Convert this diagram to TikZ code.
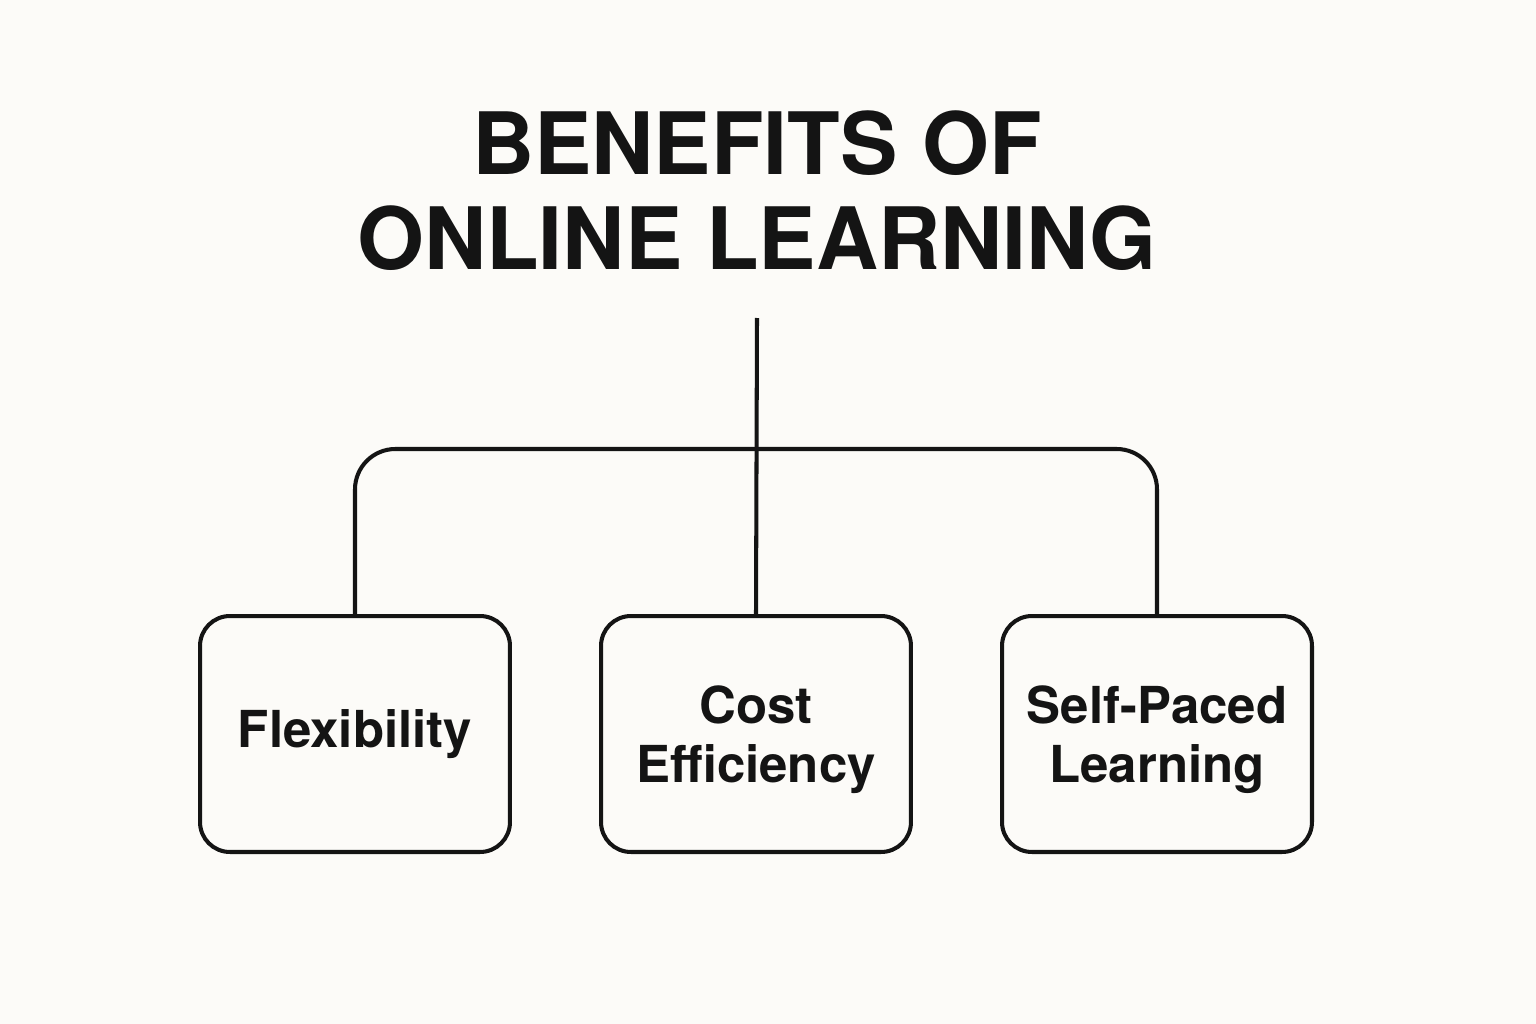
\documentclass[tikz,border=0pt]{standalone}
\usepackage{fontspec}
\setmainfont{TeX Gyre Heros}
\usetikzlibrary{positioning}
\definecolor{paper}{HTML}{FCFBF8}
\definecolor{ink}{HTML}{141414}
\tikzset{
  benefit/.style={draw=ink, line width=2.3pt, rounded corners=17pt, minimum width=6.2cm, minimum height=4.72cm, align=center, text=ink, font=\fontsize{29}{33.5}\selectfont\bfseries},
  link/.style={draw=ink, line width=2.3pt}
}
\begin{document}
\begin{tikzpicture}[x=0.02cm, y=-0.02cm]
\useasboundingbox[fill=paper] (0,0) rectangle (1536,1024);
\node[text=ink, align=center, font=\fontsize{49}{54}\selectfont\bfseries] (title) at (757,191) {BENEFITS OF\\ONLINE LEARNING};
\node[benefit] (flex) at (355,734) {Flexibility};
\node[benefit, text depth=-8pt] (cost) at (756,734) {Cost\\Efficiency};
\node[benefit, text depth=-8pt] (selfp) at (1157,734) {Self-Paced\\Learning};
\coordinate (stem) at (757,318);
\coordinate (bar) at (757,449);
\draw[link] (stem) -- (cost.north);
\draw[link, rounded corners=23pt] (flex.north) |- (bar) -| (selfp.north);
\end{tikzpicture}
\end{document}
